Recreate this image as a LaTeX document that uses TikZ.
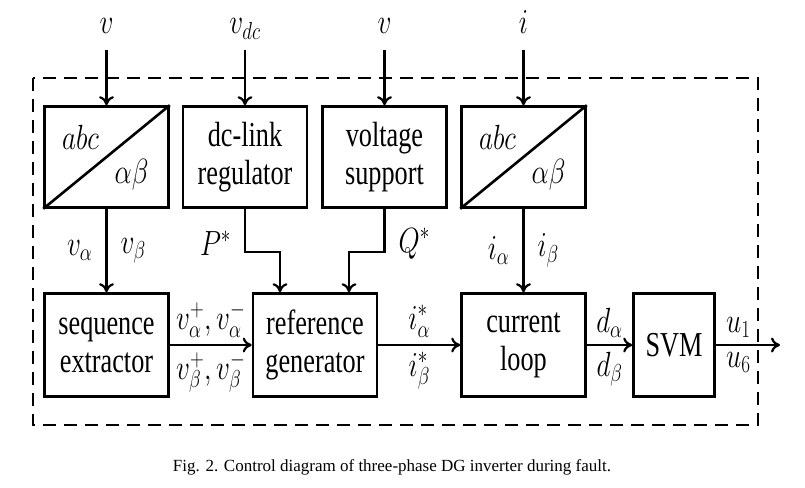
\RequirePackage{fix-cm}
\documentclass[tikz,border=0pt]{standalone}
\usepackage{graphicx}
\usepackage{fontspec}
\setmainfont[FakeStretch=0.75]{Liberation Serif}
\newfontfamily\capfont{Liberation Serif}
\usetikzlibrary{arrows.meta,positioning}
\newcommand{\nm}[1]{\scalebox{0.78}[1]{$#1$}}

\begin{document}
\begin{tikzpicture}[x=1pt,y=-1pt,
    every node/.style={font=\fontsize{35}{38}\selectfont},
    blk/.style={draw,line width=2.6pt,minimum width=124pt,align=center,inner sep=0pt},
    topblk/.style={blk,minimum height=101pt},
    botblk/.style={blk,minimum height=103pt},
    sig/.style={line width=2.2pt,-{Computer Modern Rightarrow[length=9pt,width=15pt]}},
    inlab/.style={anchor=base,inner sep=0pt,text depth=0pt},
    vlab/.style={inner sep=13pt},
    hlab/.style={inner sep=6pt},
    frame/.style={line width=2.6pt,dash pattern=on 13pt off 8pt}]
  \useasboundingbox (0,0) rectangle (805,487);
  \draw[frame] (33,78) rectangle (758,425);

  % upper row
  \node[topblk] (abcA) at (106.5,157) {};
  \draw[line width=2.6pt] (abcA.south west) -- (abcA.north east);
  \node (abcA-in) at ([xshift=-26pt,yshift=20pt]abcA.center) {\nm{abc}};
  \node (abcA-out) at ([xshift=25pt,yshift=-18pt]abcA.center) {\nm{\alpha\beta}};
  \node[topblk] (dclink) at (245,157) {dc-link\\regulator};
  \node[topblk] (vsup) at (384.5,157) {voltage\\support};
  \node[topblk] (abcB) at (523.5,157) {};
  \draw[line width=2.6pt] (abcB.south west) -- (abcB.north east);
  \node (abcB-in) at ([xshift=-26pt,yshift=20pt]abcB.center) {\nm{abc}};
  \node (abcB-out) at ([xshift=25pt,yshift=-18pt]abcB.center) {\nm{\alpha\beta}};

  % lower row
  \node[botblk] (seq) at (106.5,345) {sequence\\extractor};
  \node[botblk] (ref) at (315,345) {reference\\generator};
  \node[botblk] (cur) at (523.5,345) {current\\loop};
  \node[botblk,minimum width=81pt] (svm) at (674,345) {SVM};
  \coordinate (out) at (780,345);

  % inputs
  \node[inlab] (vA) at (106.5,34) {\nm{v}};
  \node[inlab] (vdc) at (245,34) {\nm{v_{dc}}};
  \node[inlab] (vB) at (384.5,34) {\nm{v}};
  \node[inlab] (iin) at (523.5,34) {\nm{i}};
  \draw[sig,shorten <=16pt] (vA.south) -- (abcA.north);
  \draw[sig,shorten <=16pt] (vdc.south) -- (dclink.north);
  \draw[sig,shorten <=16pt] (vB.south) -- (vsup.north);
  \draw[sig,shorten <=16pt] (iin.south) -- (abcB.north);

  % signals
  \coordinate (pk) at (245,252);
  \coordinate (qk) at (384.5,252);
  \draw[sig] (abcA) -- node[left,vlab] (va) {\nm{v_\alpha}} node[right,vlab] (vb) {\nm{v_\beta}} (seq);
  \draw[sig] (dclink) -- node[left,vlab,pos=0.8] (pst) {\nm{P^*}} (pk) -| ([xshift=-35pt]ref.north);
  \draw[sig] (vsup) -- node[right,vlab,pos=0.8] (qst) {\nm{Q^*}} (qk) -| ([xshift=34pt]ref.north);
  \draw[sig] (abcB) -- node[left,vlab] (ia) {\nm{i_\alpha}} node[right,vlab] (ib) {\nm{i_\beta}} (cur);
  \draw[sig] (seq) -- node[above,hlab] (vpa) {\nm{v_\alpha^+,v_\alpha^-}}
    node[below,hlab] (vpb) {\nm{v_\beta^+,v_\beta^-}} (ref);
  \draw[sig] (ref) -- node[above,hlab] (isa) {\nm{i_\alpha^*}}
    node[below,hlab] (isb) {\nm{i_\beta^*}} (cur);
  \draw[sig] (cur) -- node[above,hlab] (da) {\nm{d_\alpha}}
    node[below,hlab] (db) {\nm{d_\beta}} (svm);
  \draw[sig] (svm) -- node[above,hlab,pos=0.35] (u1) {\nm{u_1}}
    node[below,hlab,pos=0.35] (u6) {\nm{u_6}} (out);

  \node[font=\capfont\fontsize{17}{20}\selectfont] (cap) at (392,467)
    {Fig. 2. Control diagram of three-phase DG inverter during fault.};
\end{tikzpicture}
\end{document}
